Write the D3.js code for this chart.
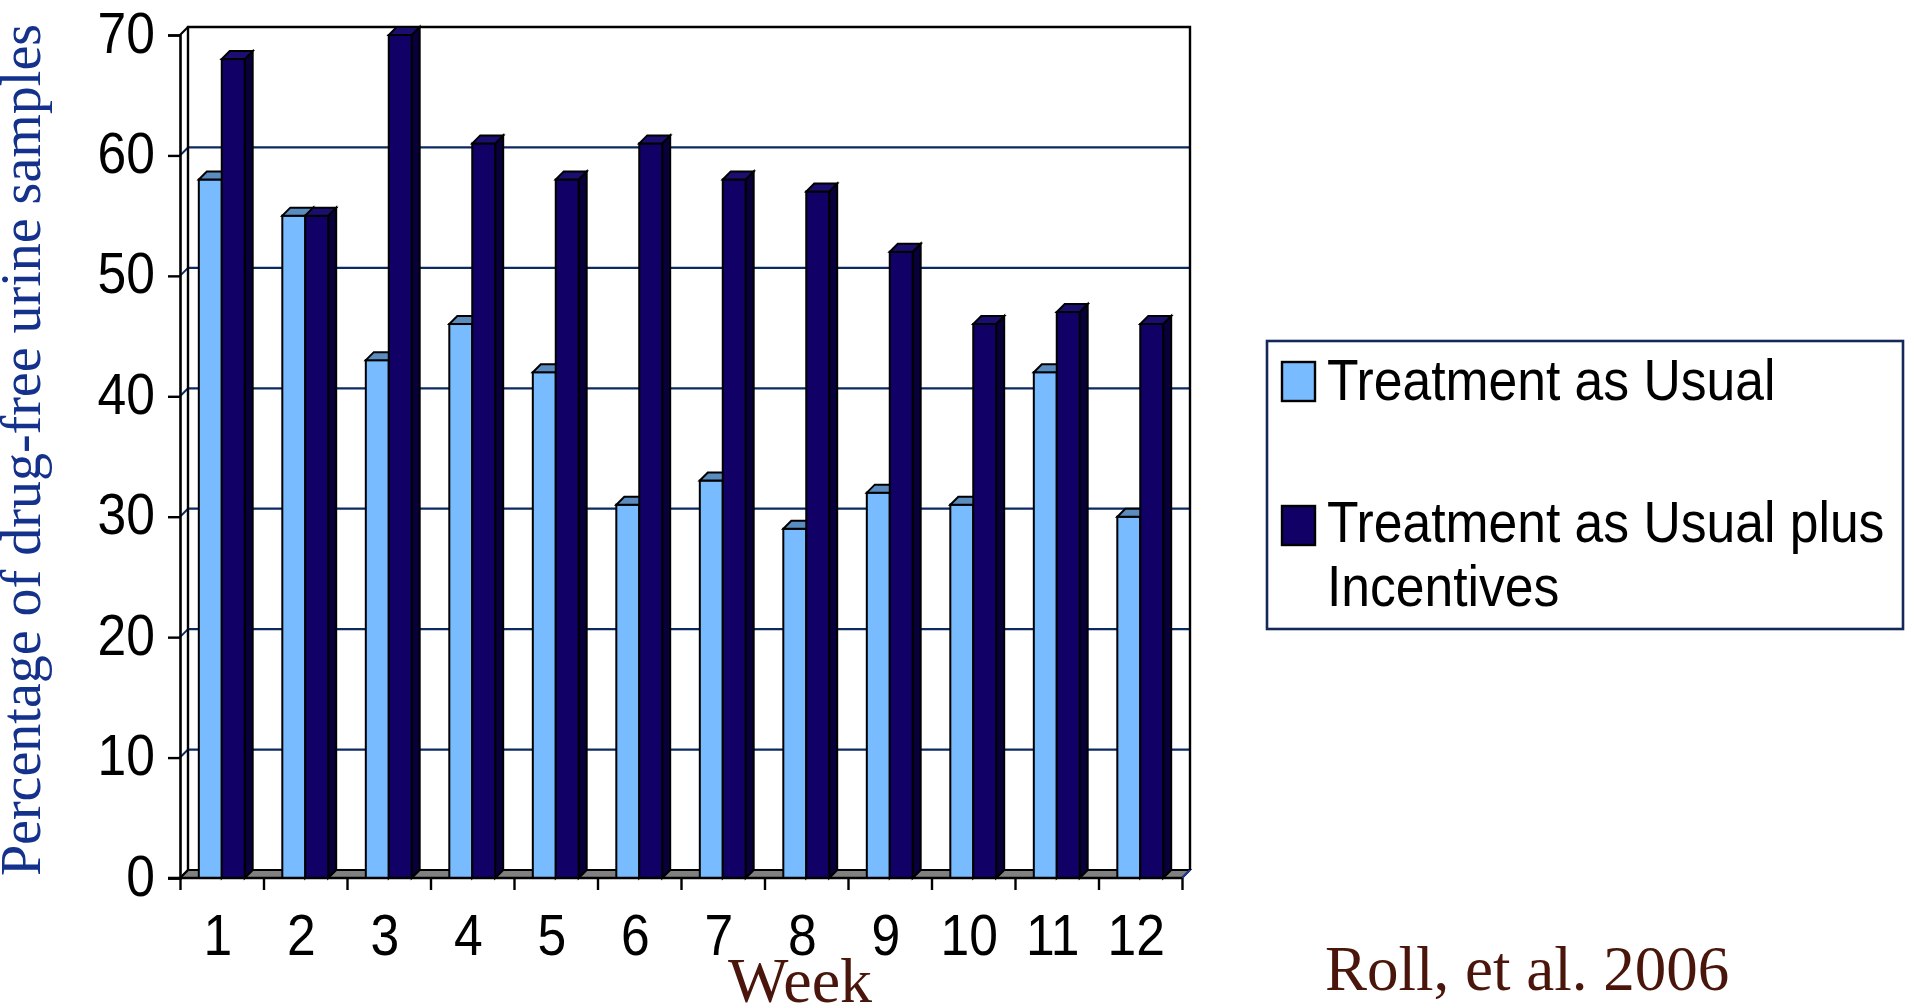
<!DOCTYPE html>
<html>
<head>
<meta charset="utf-8">
<title>Drug-free urine samples by week</title>
<script src="https://cdn.jsdelivr.net/npm/d3@7"></script>
<style>
  html, body { margin: 0; padding: 0; background: #ffffff; }
  svg { display: block; }
</style>
</head>
<body>
<svg id="chart" width="1905" height="1007"></svg>
<script>
// ---- data ----
const weeks = [1, 2, 3, 4, 5, 6, 7, 8, 9, 10, 11, 12];
const seriesNames = ["Treatment as Usual", "Treatment as Usual plus Incentives"];
const usualValues = [58, 55, 43, 46, 42, 31, 33, 29, 32, 31, 42, 30];
const incentiveValues = [68, 55, 70, 61, 58, 61, 58, 57, 52, 46, 47, 46];
const yTickValues = [0, 10, 20, 30, 40, 50, 60, 70];
const yTitle = "Percentage of drug-free urine samples";
const xTitle = "Week";
const citation = "Roll, et al. 2006";

// ---- layout ----
const svg = d3.select("#chart");
const plot = { left: 180, right: 1182, top: 35, bottom: 878 };
const depth = { dx: 8, dy: -8 };          // 3-D offset of the back wall
const sans = "'Liberation Sans', Arial, Helvetica, sans-serif";
const serif = "'Liberation Serif', 'Times New Roman', Times, serif";
const narrow = 0.89;                       // horizontal squeeze of the sans text

const colors = {
  usual: { front: "#78bbff", top: "#5b8cc0", side: "#4a78a8" },
  incent: { front: "#110066", top: "#1a0f70", side: "#08003a" },
  grid: "#0c2a62",
  floor: "#808080",
  titleBlue: "#14328c",
  brown: "#4a150a"
};

const x = d3.scaleBand().domain(weeks).range([plot.left, plot.right]).padding(0);
const xInner = d3.scaleBand().domain(seriesNames).range([0, x.bandwidth()]).paddingInner(0).paddingOuter(0.82);
const y = d3.scaleLinear().domain([0, 70]).range([plot.bottom, plot.top]);
const edge = d3.scaleLinear().domain([0, weeks.length]).range([plot.left, plot.right]);

const bx = v => v + depth.dx;   // back-plane x
const by = v => v + depth.dy;   // back-plane y

// ---- walls ----
const walls = svg.append("g");
// back wall
walls.append("rect")
  .attr("x", bx(plot.left)).attr("y", by(y(70)))
  .attr("width", plot.right - plot.left).attr("height", y(0) - y(70))
  .attr("fill", "#ffffff");

// gridlines on the back wall plus their short run across the side wall
const grid = walls.append("g");
yTickValues.filter(v => v > 0 && v < 70).forEach(v => {
  grid.append("line")
    .attr("x1", bx(plot.left)).attr("x2", bx(plot.right))
    .attr("y1", by(y(v))).attr("y2", by(y(v)))
    .attr("stroke", colors.grid).attr("stroke-width", 2.2);
  grid.append("line")
    .attr("x1", plot.left).attr("x2", bx(plot.left))
    .attr("y1", y(v)).attr("y2", by(y(v)))
    .attr("stroke", colors.grid).attr("stroke-width", 2);
});

// floor
walls.append("path")
  .attr("d", d3.line()([
    [plot.left, y(0)], [plot.right, y(0)],
    [bx(plot.right), by(y(0))], [bx(plot.left), by(y(0))]
  ]) + "Z")
  .attr("fill", colors.floor).attr("stroke", "#000").attr("stroke-width", 1.8)
  .attr("stroke-linejoin", "miter");
// right edge of the floor
walls.append("line")
  .attr("x1", plot.right).attr("y1", y(0))
  .attr("x2", bx(plot.right)).attr("y2", by(y(0)))
  .attr("stroke", "#1a3a9a").attr("stroke-width", 2);

// wall outlines
const outline = walls.append("g").attr("fill", "none").attr("stroke", "#000");
outline.append("path")   // left edge of back wall, top edge, right edge
  .attr("d", d3.line()([
    [bx(plot.left), by(y(0))], [bx(plot.left), by(y(70))],
    [bx(plot.right), by(y(70))], [bx(plot.right), by(y(0))]
  ]))
  .attr("stroke-width", 2.4);
outline.append("line")
  .attr("x1", plot.left).attr("y1", y(70))
  .attr("x2", bx(plot.left)).attr("y2", by(y(70)))
  .attr("stroke-width", 2.2);
outline.append("line")
  .attr("x1", plot.left).attr("y1", y(0))
  .attr("x2", bx(plot.left)).attr("y2", by(y(0)))
  .attr("stroke-width", 2.2);

// ---- bars ----
const bars = svg.append("g").attr("stroke", "#000").attr("stroke-width", 2).attr("stroke-linejoin", "miter");

function drawBar(g, x0, w, v, pal, withSide) {
  const yt = y(v), yb = y(0);
  if (withSide) {
    g.append("path")
      .attr("d", d3.line()([[x0 + w, yt], [bx(x0 + w), by(yt)], [bx(x0 + w), by(yb)], [x0 + w, yb]]) + "Z")
      .attr("fill", pal.side);
  }
  g.append("rect")
    .attr("x", x0).attr("y", yt).attr("width", w).attr("height", yb - yt)
    .attr("fill", pal.front);
  g.append("path")
    .attr("d", d3.line()([[x0, yt], [x0 + w, yt], [bx(x0 + w), by(yt)], [bx(x0), by(yt)]]) + "Z")
    .attr("fill", pal.top);
}

weeks.forEach((wk, i) => {
  const g = bars.append("g");
  const w = xInner.bandwidth();
  drawBar(g, x(wk) + xInner(seriesNames[0]), w, usualValues[i], colors.usual, true);
  drawBar(g, x(wk) + xInner(seriesNames[1]), w, incentiveValues[i], colors.incent, true);
});

// ---- axes ----
const yAxis = d3.axisLeft(y).tickValues(yTickValues).tickSize(12).tickFormat(d3.format("d"));
const yG = svg.append("g").attr("transform", `translate(${plot.left},0)`).call(yAxis);
yG.select(".domain").attr("stroke", "#000").attr("stroke-width", 2.6);
yG.selectAll(".tick line").attr("stroke", "#000").attr("stroke-width", 2.4);
yG.selectAll(".tick text")
  .attr("x", null).attr("dy", null)
  .attr("transform", `translate(-25,17) scale(${narrow},1)`)
  .attr("text-anchor", "end")
  .attr("font-family", sans).attr("font-size", 58).attr("fill", "#000");

const xAxis = d3.axisBottom(edge).tickValues(d3.range(0, weeks.length + 1)).tickSize(12).tickFormat("");
const xG = svg.append("g").attr("transform", `translate(0,${plot.bottom})`).call(xAxis);
xG.select(".domain").attr("d", `M${plot.left - 12},0H${plot.right}`).attr("stroke", "#000").attr("stroke-width", 2.6);
xG.selectAll(".tick line").attr("stroke", "#000").attr("stroke-width", 2.4);

svg.append("g").selectAll("g")
  .data(weeks)
  .join("g")
  .attr("transform", d => `translate(${x(d) + x.bandwidth() / 2 - 4},955) scale(${narrow},1)`)
  .append("text")
  .attr("text-anchor", "middle")
  .attr("font-family", sans).attr("font-size", 58).attr("fill", "#000")
  .text(d => d);

// ---- titles ----
svg.append("text")
  .attr("transform", "translate(40,450) rotate(-90)")
  .attr("text-anchor", "middle")
  .attr("font-family", serif).attr("font-size", 56).attr("fill", colors.titleBlue)
  .text(yTitle);

svg.append("text")
  .attr("x", 800).attr("y", 1002)
  .attr("text-anchor", "middle")
  .attr("font-family", serif).attr("font-size", 64).attr("fill", colors.brown)
  .text(xTitle);

svg.append("text")
  .attr("x", 1325).attr("y", 990)
  .attr("font-family", serif).attr("font-size", 63).attr("fill", colors.brown)
  .text(citation);

// ---- legend ----
const legend = svg.append("g");
legend.append("rect")
  .attr("x", 1267).attr("y", 341).attr("width", 636).attr("height", 288)
  .attr("fill", "#fff").attr("stroke", "#14285a").attr("stroke-width", 2.6);

const legendRows = [
  { swatchY: 362, lines: ["Treatment as Usual"], baseline: 400, fill: colors.usual.front },
  { swatchY: 506, lines: ["Treatment as Usual plus", "Incentives"], baseline: 542, fill: colors.incent.front }
];
legendRows.forEach((row, i) => {
  legend.append("rect")
    .attr("x", 1282).attr("y", row.swatchY).attr("width", 33).attr("height", 39)
    .attr("fill", row.fill).attr("stroke", "#000").attr("stroke-width", 2.4);
  const label = i === 0 ? [seriesNames[0]] : row.lines;
  label.forEach((t, j) => {
    legend.append("g")
      .attr("transform", `translate(1327,${row.baseline + j * 64}) scale(${narrow},1)`)
      .append("text")
      .attr("font-family", sans).attr("font-size", 58).attr("fill", "#000")
      .text(t);
  });
});
</script>
</body>
</html>
